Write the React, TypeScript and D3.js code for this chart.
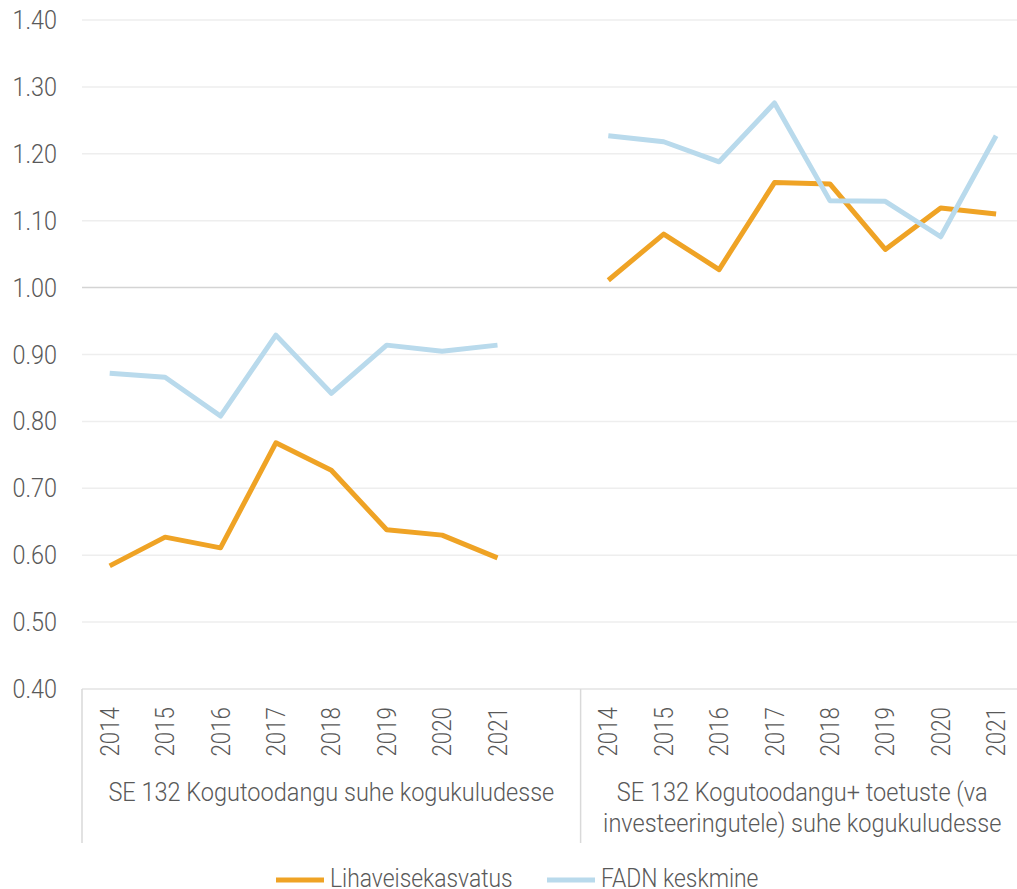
import React, { useEffect, useRef } from 'react';
import * as d3 from 'd3';

const years = ['2014', '2015', '2016', '2017', '2018', '2019', '2020', '2021'];
const groupLabels = [
  ['SE 132 Kogutoodangu suhe kogukuludesse'],
  ['SE 132 Kogutoodangu+ toetuste (va', 'investeeringutele) suhe kogukuludesse'],
];
const seriesNames = ['Lihaveisekasvatus', 'FADN keskmine'];
const seriesColors = ['#EFA325', '#B9DAEC'];

// group 1: SE 132 Kogutoodangu suhe kogukuludesse
const liha1 = [0.584, 0.627, 0.611, 0.768, 0.727, 0.638, 0.630, 0.596];
const fadn1 = [0.872, 0.866, 0.808, 0.929, 0.842, 0.914, 0.905, 0.914];
// group 2: kogutoodang + toetused
const liha2 = [1.011, 1.080, 1.027, 1.157, 1.155, 1.057, 1.119, 1.110];
const fadn2 = [1.227, 1.218, 1.188, 1.276, 1.130, 1.129, 1.076, 1.227];

const yTicks = [0.4, 0.5, 0.6, 0.7, 0.8, 0.9, 1.0, 1.1, 1.2, 1.3, 1.4];

const FONT = 'Roboto, sans-serif';

const App = () => {
  const ref = useRef<SVGSVGElement>(null);

  useEffect(() => {
    const width = 1017;
    const height = 889;
    const left = 82;
    const catW = 55.4;

    const keys = [
      ...years.map(y => 'a' + y),
      'gap',
      ...years.map(y => 'b' + y),
    ];
    const x = d3.scaleBand().domain(keys).range([left, left + keys.length * catW]).padding(0);
    const y = d3.scaleLinear().domain([0.4, 1.4]).range([689, 20]);

    const svg = d3.select(ref.current);
    svg.selectAll('*').remove();
    svg.attr('width', width).attr('height', height);

    // gridlines
    svg.append('g')
      .selectAll('line')
      .data(yTicks)
      .enter().append('line')
      .attr('x1', left)
      .attr('x2', width)
      .attr('y1', d => y(d))
      .attr('y2', d => y(d))
      .attr('stroke', d => (Math.abs(d - 1) < 1e-6 ? '#D4D4D4' : Math.abs(d - 0.4) < 1e-6 ? '#E3E3E3' : '#EEEEEE'))
      .attr('stroke-width', 1.5);

    const label = (sel: any, sx: number, anchor: string) =>
      sel.append('g')
        .attr('transform', `scale(${sx},1)`)
        .append('text')
        .attr('text-anchor', anchor)
        .attr('font-family', FONT)
        .attr('font-weight', 300)
        .attr('font-size', 26)
        .attr('fill', '#595959');

    // y labels
    const yl = svg.append('g')
      .selectAll('g')
      .data(yTicks)
      .enter().append('g')
      .attr('transform', d => `translate(57,${y(d) + 9})`);
    label(yl, 0.9, 'end').text((d: number) => d.toFixed(2));

    // category dividers
    const dividers = [left, x('b2014')!];
    svg.append('g')
      .selectAll('line')
      .data(dividers)
      .enter().append('line')
      .attr('x1', d => d)
      .attr('x2', d => d)
      .attr('y1', 689)
      .attr('y2', 843)
      .attr('stroke', '#D9D9D9')
      .attr('stroke-width', 1.5);

    // year labels
    const yearKeys = keys.filter(k => k !== 'gap');
    const xl = svg.append('g')
      .selectAll('g')
      .data(yearKeys)
      .enter().append('g')
      .attr('transform', d => `translate(${x(d)! + x.bandwidth() / 2 + 9},707) rotate(-90)`);
    label(xl, 0.86, 'end').text((d: string) => d.slice(1));

    // group labels
    const groupCenters = [
      (left + x('b2014')!) / 2,
      (x('b2014')! + x('b2021')! + x.bandwidth()) / 2,
    ];
    groupLabels.forEach((lines, gi) => {
      lines.forEach((ln, li) => {
        const g = svg.append('g')
          .attr('transform', `translate(${groupCenters[gi]},${801 + li * 31})`);
        label(g, 0.905, 'middle').text(ln);
      });
    });

    // lines
    const line = d3.line<{ k: string; v: number }>()
      .x(d => x(d.k)! + x.bandwidth() / 2)
      .y(d => y(d.v));

    const series = [
      { vals: [liha1, liha2], color: seriesColors[0] },
      { vals: [fadn1, fadn2], color: seriesColors[1] },
    ];
    series.forEach(s => {
      s.vals.forEach((vals, gi) => {
        const pts = vals.map((v, i) => ({ k: (gi === 0 ? 'a' : 'b') + years[i], v }));
        svg.append('path')
          .attr('d', line(pts))
          .attr('fill', 'none')
          .attr('stroke', s.color)
          .attr('stroke-width', 5)
          .attr('stroke-linejoin', 'round');
      });
    });

    // legend
    const legendX = [276, 547];
    seriesNames.forEach((name, i) => {
      svg.append('line')
        .attr('x1', legendX[i])
        .attr('x2', legendX[i] + 48)
        .attr('y1', 880)
        .attr('y2', 880)
        .attr('stroke', seriesColors[i])
        .attr('stroke-width', 5);
      const g = svg.append('g')
        .attr('transform', `translate(${legendX[i] + 54},887)`);
      label(g, 0.88, 'start').text(name);
    });
  }, []);

  return (
    <svg ref={ref} style={{ position: 'absolute', left: 0, top: 0, overflow: 'hidden' }}></svg>
  );
};

export default App;
